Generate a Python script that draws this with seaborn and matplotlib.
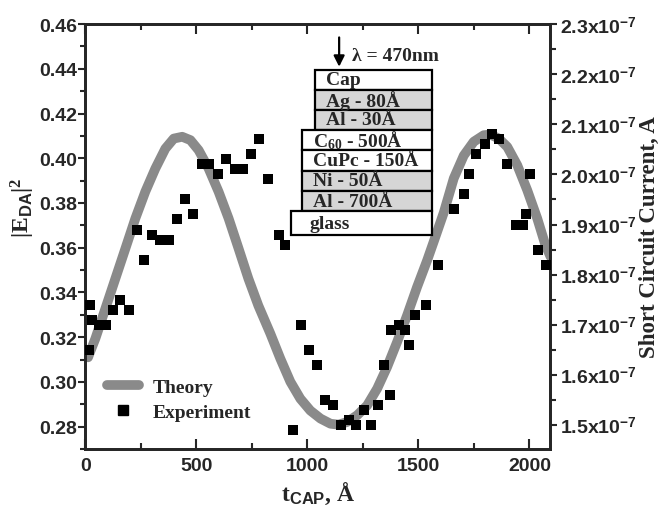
import numpy as np
import pandas as pd
import matplotlib
matplotlib.use("Agg")
import matplotlib.pyplot as plt
import seaborn as sns
from matplotlib.lines import Line2D
from matplotlib.patches import Rectangle
from matplotlib.ticker import MultipleLocator, FuncFormatter

# theory curve |E_DA|^2 vs cap thickness (left axis)
theory_x = [12, 22, 45, 90, 135, 180, 225, 270, 315, 360, 398, 436, 473, 510,
            555, 600, 645, 690, 734, 779, 833, 878, 923, 968, 1013, 1059, 1104,
            1140, 1179, 1224, 1269, 1314, 1359, 1404, 1449, 1494, 1539, 1569,
            1614, 1659, 1704, 1749, 1794, 1824, 1862, 1900, 1945, 1990, 2035,
            2072, 2095]
theory_y = [0.311, 0.3136, 0.3194, 0.3328, 0.3462, 0.3596, 0.3731, 0.3851,
            0.3954, 0.4043, 0.4088, 0.4096, 0.4081, 0.4036, 0.3954, 0.3850,
            0.3731, 0.3596, 0.3462, 0.3341, 0.3216, 0.3104, 0.3001, 0.2925,
            0.2872, 0.2836, 0.2813, 0.2809, 0.2821, 0.2851, 0.2895, 0.2970,
            0.3067, 0.3179, 0.3298, 0.3425, 0.3543, 0.3628, 0.3757, 0.3910,
            0.4012, 0.4074, 0.4103, 0.4106, 0.4088, 0.4051, 0.3969, 0.3857,
            0.3731, 0.3611, 0.3560]

# measured short circuit current (right axis, units of 1e-7 A)
exp_x = [18, 22, 30, 61, 95, 124, 158, 195, 232, 266, 300, 338, 375, 412, 447,
         485, 523, 556, 595, 634, 673, 709, 746, 782, 823, 874, 899, 935, 972,
         1009, 1042, 1081, 1114, 1149, 1186, 1220, 1254, 1288, 1317, 1344, 1370,
         1378, 1411, 1438, 1456, 1486, 1536, 1590, 1659, 1704, 1727, 1761, 1799,
         1833, 1865, 1900, 1939, 1972, 1986, 2001, 2037, 2074]
exp_current = [1.65, 1.74, 1.71, 1.70, 1.70, 1.73, 1.75, 1.73, 1.89, 1.83, 1.88,
               1.87, 1.87, 1.91, 1.95, 1.92, 2.02, 2.02, 2.00, 2.03, 2.01, 2.01,
               2.04, 2.07, 1.99, 1.88, 1.86, 1.49, 1.70, 1.65, 1.62, 1.55, 1.54,
               1.50, 1.51, 1.50, 1.53, 1.50, 1.54, 1.62, 1.56, 1.69, 1.70, 1.69,
               1.66, 1.72, 1.74, 1.82, 1.93, 1.96, 2.00, 2.04, 2.06, 2.08, 2.07,
               2.02, 1.90, 1.90, 1.92, 2.00, 1.85, 1.82]

layer_names = ["Cap", "Ag - 80Å", "Al - 30Å", "C$_{60}$ - 500Å", "CuPc - 150Å",
               "Ni - 50Å", "Al - 700Å", "glass"]
layer_shaded = [False, True, True, False, False, True, True, False]

legend_labels = ["Theory", "Experiment"]

sns.set_style("ticks")
plt.rcParams["font.family"] = ["Liberation Serif", "DejaVu Serif"]
plt.rcParams["font.weight"] = "bold"
plt.rcParams["mathtext.fontset"] = "custom"
plt.rcParams["mathtext.rm"] = "Liberation Serif:bold"
plt.rcParams["mathtext.bf"] = "Liberation Serif:bold"
plt.rcParams["mathtext.it"] = "Liberation Serif:bold"
plt.rcParams["mathtext.sf"] = "Liberation Sans:bold"
plt.rcParams["mathtext.default"] = "rm"

theory = pd.DataFrame({"t": theory_x, "E": theory_y})
exp = pd.DataFrame({"t": exp_x, "I": np.array(exp_current) * 1e-7})

fig = plt.figure(figsize=(6.62, 5.10), dpi=100)
ax = fig.add_axes([0.129, 0.1176, 0.702, 0.8333])
ax2 = ax.twinx()

gray = "#8a8a8a"
sns.lineplot(data=theory, x="t", y="E", ax=ax, color=gray, lw=7, sort=False,
             solid_joinstyle="round")
sns.scatterplot(data=exp, x="t", y="I", ax=ax2, color="black", marker="s",
                s=52, linewidth=0, zorder=5)

ax.set_xlim(0, 2093)
ax.set_ylim(0.27, 0.46)
ax2.set_ylim(1.452e-7, 2.3e-7)

ax.xaxis.set_major_locator(MultipleLocator(500))
ax.xaxis.set_minor_locator(MultipleLocator(250))
ax.yaxis.set_major_locator(MultipleLocator(0.02))
ax.yaxis.set_minor_locator(MultipleLocator(0.01))
ax.yaxis.set_major_formatter(FuncFormatter(lambda v, p: f"{v:.2f}"))
ax2.yaxis.set_major_locator(MultipleLocator(0.1e-7))
ax2.yaxis.set_minor_locator(MultipleLocator(0.05e-7))
ax2.yaxis.set_major_formatter(
    FuncFormatter(lambda v, p: f"{v / 1e-7:.1f}x10" + r"$^{\mathsf{-7}}$"))

ax.tick_params(axis="both", labelsize=14)
ax2.tick_params(axis="y", labelsize=14)
for lab in ax.get_xticklabels() + ax.get_yticklabels() + ax2.get_yticklabels():
    lab.set_fontfamily("Liberation Sans")
    lab.set_fontweight("bold")

ax.tick_params(axis="x", which="both", direction="in", top=True, bottom=True,
               width=1.5, pad=6)
ax.tick_params(axis="x", which="major", length=7)
ax.tick_params(axis="x", which="minor", length=4)
ax.tick_params(axis="y", which="both", direction="out", width=1.5, pad=1)
ax.tick_params(axis="y", which="major", length=5)
ax.tick_params(axis="y", which="minor", length=3.5)
ax2.tick_params(axis="y", which="both", direction="out", width=1.5, pad=2)
ax2.tick_params(axis="y", which="major", length=5)
ax2.tick_params(axis="y", which="minor", length=4)

for a in (ax, ax2):
    for sp in a.spines.values():
        sp.set_visible(True)
        sp.set_linewidth(2)

ax.set_xlabel(r"t$_{\mathsf{CAP}}$, Å", fontsize=17, fontweight="bold", labelpad=4)
ax.set_ylabel(r"|E$_{\mathsf{DA}}$|$^{2}$", fontsize=17, fontweight="bold")
ax.yaxis.set_label_coords(-0.104, 0.57)
ax2.set_ylabel("Short Circuit Current, A", fontsize=16.5, fontweight="bold",
               labelpad=2)

# layer stack inset
x_right = 0.746
lefts = [0.494, 0.494, 0.494, 0.466, 0.466, 0.466, 0.466, 0.443]
heights = [0.047, 0.047, 0.047, 0.048, 0.048, 0.048, 0.048, 0.056]
y_top = 0.892
for name, shaded, left, h in zip(layer_names, layer_shaded, lefts, heights):
    y0 = y_top - h
    ax2.add_patch(Rectangle((left, y0), x_right - left, h, transform=ax2.transAxes,
                            facecolor="#d6d6d6" if shaded else "white",
                            edgecolor="black", lw=1.6, zorder=6))
    pad = 0.04 if name == "glass" else 0.023
    ax2.text(left + pad, y0 + h / 2, name, transform=ax2.transAxes, fontsize=14,
             fontweight="bold", va="center", ha="left", zorder=7)
    y_top = y0

ax2.annotate("", xy=(0.546, 0.893), xytext=(0.546, 0.975),
             xycoords="axes fraction",
             arrowprops=dict(arrowstyle="-|>", color="black", lw=1.6,
                             mutation_scale=16))
ax2.text(0.574, 0.925, "λ = 470nm", transform=ax2.transAxes, fontsize=14,
         fontweight="bold", va="center", ha="left")

handles = [Line2D([], [], color=gray, lw=7),
           Line2D([], [], color="black", marker="s", ls="none", markersize=7)]
leg = ax2.legend(handles, legend_labels, loc="lower left",
                 bbox_to_anchor=(0.046, 0.066), frameon=False, fontsize=14,
                 handlelength=1.65, handletextpad=0.7, labelspacing=0.4,
                 borderpad=0, borderaxespad=0)
for t in leg.get_texts():
    t.set_fontweight("bold")

fig.savefig("out.png", dpi=100)
